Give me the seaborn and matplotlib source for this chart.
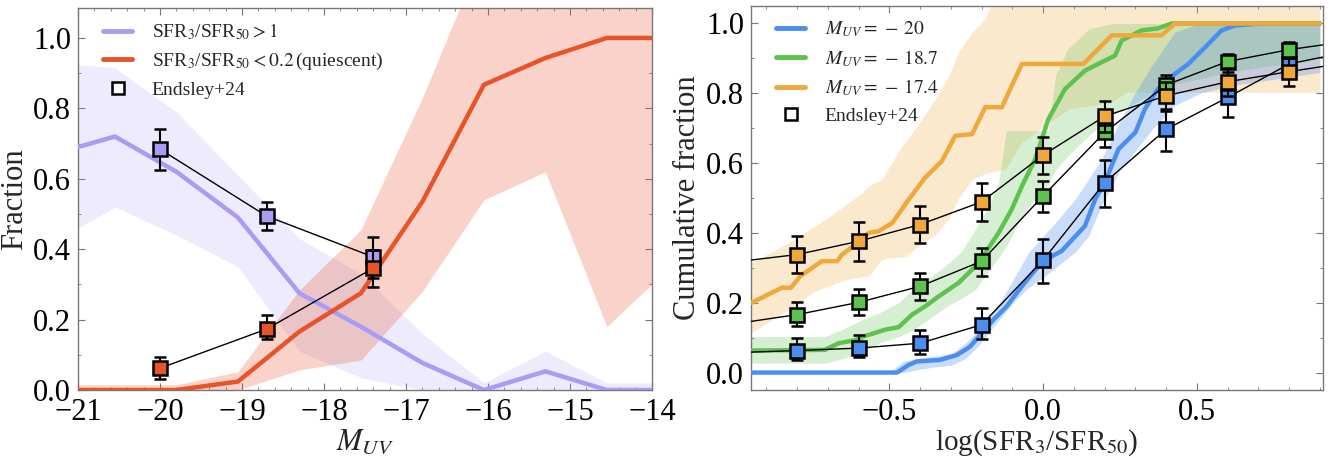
import matplotlib
matplotlib.use("Agg")
import matplotlib.pyplot as plt
from matplotlib.lines import Line2D
from matplotlib.ticker import AutoMinorLocator, MultipleLocator
import seaborn as sns

# ---- left panel: burst / quiescent fractions vs M_UV ----
muv_grid = [-21.3, -20.55, -19.8, -19.05, -18.3, -17.55, -16.8, -16.05, -15.3, -14.55, -13.8]
burst_med = [0.67, 0.72, 0.62, 0.49, 0.275, 0.18, 0.077, 0.0, 0.053, 0.0, 0.0]
burst_lo = [0.42, 0.52, 0.44, 0.35, 0.11, 0.035, 0.0, 0.0, 0.0, 0.0, 0.0]
burst_hi = [0.93, 0.915, 0.79, 0.61, 0.43, 0.33, 0.16, 0.02, 0.11, 0.02, 0.02]
quies_med = [0.0, 0.0, 0.0, 0.024, 0.166, 0.275, 0.535, 0.867, 0.943, 1.0, 1.0]
quies_lo = [0.0, 0.0, 0.0, 0.0, 0.057, 0.085, 0.28, 0.54, 0.62, 0.18, 0.345]
quies_hi = [0.015, 0.015, 0.015, 0.052, 0.284, 0.455, 0.83, 1.25, 1.3, 1.3, 1.3]

# Endsley+24 fractions
muv_obs = [-20.0, -18.7, -17.4]
burst_obs = [0.684, 0.494, 0.378]
burst_obs_lo = [0.06, 0.04, 0.06]
burst_obs_hi = [0.056, 0.04, 0.057]
quies_obs = [0.062, 0.173, 0.346]
quies_obs_lo = [0.031, 0.028, 0.053]
quies_obs_hi = [0.033, 0.04, 0.053]

# ---- right panel: cumulative distributions of log(SFR3/SFR50) ----
m20_x = [-0.95, -0.475, -0.437, -0.41, -0.336, -0.281, -0.238, -0.205, -0.162, -0.118, -0.086,
         -0.043, 0.0, 0.06, 0.136, 0.169, 0.2, 0.245, 0.3, 0.331, 0.373, 0.428, 0.472, 0.536,
         0.58, 0.623, 0.71, 0.9]
m20_y = [0.0, 0.0, 0.022, 0.032, 0.036, 0.05, 0.074, 0.108, 0.151, 0.19, 0.228,
         0.276, 0.32, 0.348, 0.42, 0.496, 0.544, 0.64, 0.688, 0.755, 0.812, 0.855, 0.884, 0.94,
         0.98, 0.994, 1.0, 1.0]
m20_band_x = [-0.5, -0.455, -0.41, -0.36, -0.296, -0.253, -0.21, -0.178, -0.135, -0.091, -0.048,
              0.0, 0.039, 0.104, 0.147, 0.19, 0.25, 0.3, 0.353, 0.428, 0.51, 0.6, 0.9]
m20_band_lo = [0.0, 0.0, 0.008, 0.015, 0.022, 0.04, 0.077, 0.113, 0.16, 0.207, 0.243,
               0.272, 0.3, 0.345, 0.39, 0.48, 0.58, 0.635, 0.695, 0.765, 0.8, 0.82, 0.86]
m20_band_hi = [0.0, 0.032, 0.04, 0.046, 0.055, 0.084, 0.123, 0.161, 0.209, 0.276, 0.343,
               0.39, 0.429, 0.496, 0.553, 0.611, 0.72, 0.803, 0.879, 0.975, 1.0, 1.0, 1.0]

m187_x = [-0.95, -0.71, -0.665, -0.61, -0.585, -0.513, -0.47, -0.426, -0.383, -0.34, -0.275,
          -0.231, -0.188, -0.145, -0.102, -0.069, -0.026, 0.017, 0.071, 0.136, 0.19, 0.234,
          0.255, 0.32, 0.374, 0.418, 0.9]
m187_y = [0.063, 0.065, 0.084, 0.093, 0.103, 0.123, 0.13, 0.166, 0.19, 0.218, 0.257,
          0.295, 0.343, 0.40, 0.468, 0.534, 0.611, 0.726, 0.812, 0.865, 0.889, 0.908,
          0.951, 0.98, 0.986, 1.0, 1.0]
m187_band_x = [-0.95, -0.71, -0.65, -0.58, -0.535, -0.47, -0.426, -0.361, -0.307, -0.264, -0.221,
               -0.177, -0.145, -0.12, -0.08, -0.037, 0.017, 0.04, 0.08, 0.15, 0.23, 0.4, 0.6, 0.9]
m187_band_lo = [0.027, 0.027, 0.04, 0.063, 0.084, 0.103, 0.12, 0.16, 0.193, 0.213, 0.237,
                0.29, 0.33, 0.36, 0.429, 0.487, 0.54, 0.58, 0.62, 0.68, 0.74, 0.82, 0.86, 0.9]
m187_band_hi = [0.103, 0.103, 0.125, 0.155, 0.17, 0.20, 0.238, 0.276, 0.314, 0.348, 0.41,
                0.477, 0.544, 0.693, 0.693, 0.693, 0.693, 0.85, 0.927, 0.985, 1.0, 1.0, 1.0, 1.0]

m174_x = [-0.95, -0.85, -0.82, -0.79, -0.72, -0.67, -0.654, -0.61, -0.567, -0.535, -0.49,
          -0.437, -0.383, -0.329, -0.286, -0.231, -0.188, -0.134, -0.102, -0.069, 0.131,
          0.223, 0.385, 0.429, 0.9]
m174_y = [0.199, 0.243, 0.243, 0.276, 0.319, 0.319, 0.338, 0.367, 0.40, 0.405, 0.429,
          0.496, 0.559, 0.606, 0.678, 0.683, 0.76, 0.76, 0.822, 0.884, 0.884,
          0.966, 0.966, 1.0, 1.0]
m174_band_x = [-0.95, -0.848, -0.827, -0.751, -0.708, -0.643, -0.589, -0.567, -0.524, -0.502,
               -0.459, -0.448, -0.394, -0.35, -0.307, -0.275, -0.231, -0.188, -0.15, -0.123,
               -0.069, -0.026, 0.082, 0.223, 0.272, 0.9]
m174_band_lo = [0.113, 0.17, 0.18, 0.228, 0.245, 0.266, 0.274, 0.277, 0.324, 0.328,
                0.331, 0.333, 0.37, 0.395, 0.44, 0.50, 0.553, 0.57, 0.578, 0.582,
                0.659, 0.688, 0.755, 0.774, 0.803, 0.803]
m174_band_hi = [0.314, 0.362, 0.372, 0.415, 0.439, 0.48, 0.515, 0.535, 0.554, 0.587,
                0.649, 0.66, 0.726, 0.784, 0.85, 0.918, 0.975, 1.014, 1.1, 1.1,
                1.1, 1.1, 1.1, 1.1, 1.1, 1.1]

# Endsley+24 cumulative fractions (end points lie just outside the plot range)
ratio_obs = [-1.0, -0.8, -0.6, -0.4, -0.2, 0.0, 0.2, 0.4, 0.6, 0.8, 1.0]
m20_obs = [0.057, 0.063, 0.07, 0.084, 0.137, 0.322, 0.544, 0.697, 0.788, 0.884, 0.92]
m20_obs_lo = [0.02, 0.027, 0.026, 0.03, 0.041, 0.065, 0.069, 0.062, 0.057, 0.04, 0.03]
m20_obs_hi = [0.02, 0.036, 0.038, 0.039, 0.048, 0.061, 0.065, 0.053, 0.04, 0.03, 0.03]
m187_obs = [0.14, 0.166, 0.201, 0.247, 0.319, 0.506, 0.688, 0.824, 0.891, 0.925, 0.95]
m187_obs_lo = [0.03, 0.034, 0.035, 0.038, 0.043, 0.045, 0.043, 0.035, 0.03, 0.025, 0.02]
m187_obs_hi = [0.03, 0.035, 0.039, 0.039, 0.038, 0.043, 0.04, 0.029, 0.022, 0.022, 0.02]
m174_obs = [0.317, 0.338, 0.376, 0.424, 0.489, 0.623, 0.734, 0.793, 0.833, 0.862, 0.889]
m174_obs_lo = [0.05, 0.052, 0.056, 0.052, 0.055, 0.055, 0.046, 0.038, 0.04, 0.042, 0.04]
m174_obs_hi = [0.05, 0.054, 0.054, 0.053, 0.055, 0.051, 0.045, 0.04, 0.04, 0.04, 0.04]

PURPLE = "#a99cf5"
RED = "#e9532a"
BLUE = "#4c8ef0"
GREEN = "#5ec24f"
ORANGE = "#f0a83c"

sns.set_style("ticks")
plt.rcParams["font.family"] = ["Liberation Serif", "DejaVu Serif"]
plt.rcParams["mathtext.fontset"] = "stix"

fig = plt.figure(figsize=(13.38, 4.58), dpi=100)
ax1 = fig.add_axes([78 / 1338, 68 / 458, 574 / 1338, 382 / 458])
ax2 = fig.add_axes([751 / 1338, 68 / 458, 572 / 1338, 384 / 458])


def observed(ax, x, y, lo, hi, color, z):
    sns.lineplot(x=x, y=y, ax=ax, color="black", lw=1.0, sort=False, zorder=z)
    ax.errorbar(x, y, yerr=[lo, hi], fmt="s", ms=10, mfc=color, mec="black", mew=1.8,
                ecolor="black", elinewidth=1.5, capsize=4, capthick=1.5, zorder=z + 1)


# left panel
ax1.fill_between(muv_grid, burst_lo, burst_hi, color=PURPLE, alpha=0.2, lw=0)
ax1.fill_between(muv_grid, quies_lo, quies_hi, color=RED, alpha=0.25, lw=0)
sns.lineplot(x=muv_grid, y=burst_med, ax=ax1, color=PURPLE, lw=3.2, sort=False, zorder=3)
sns.lineplot(x=muv_grid, y=quies_med, ax=ax1, color=RED, lw=3.2, sort=False, zorder=3)
observed(ax1, muv_obs, burst_obs, burst_obs_lo, burst_obs_hi, PURPLE, 5)
observed(ax1, muv_obs, quies_obs, quies_obs_lo, quies_obs_hi, RED, 7)

ax1.set_xlim(-21, -14)
ax1.set_ylim(0, 1.085)
ax1.xaxis.set_major_locator(MultipleLocator(1))
ax1.yaxis.set_major_locator(MultipleLocator(0.2))
ax1.set_xlabel("$M_{UV}$", fontsize=22, labelpad=0)
ax1.set_ylabel("Fraction", fontsize=22, labelpad=3)

handles1 = [
    Line2D([], [], color=PURPLE, lw=3.5),
    Line2D([], [], color=RED, lw=3.5),
    Line2D([], [], ls="none", marker="s", ms=9, mfc="white", mec="black", mew=1.8),
]
labels1 = ["SFR$_3$/SFR$_{50} > 1$", "SFR$_3$/SFR$_{50} < 0.2\\,$(quiescent)", "Endsley+24"]
ax1.legend(handles1, labels1, loc="upper left", frameon=False, fontsize=14,
           handlelength=1.5, handletextpad=1.0, labelspacing=0.45,
           borderaxespad=0.3, bbox_to_anchor=(0.02, 1.0))

# right panel
for bx, lo, hi, c, a in [(m174_band_x, m174_band_lo, m174_band_hi, ORANGE, 0.25),
                         (m187_band_x, m187_band_lo, m187_band_hi, GREEN, 0.25),
                         (m20_band_x, m20_band_lo, m20_band_hi, BLUE, 0.3)]:
    ax2.fill_between(bx, lo, hi, color=c, alpha=a, lw=0)
sns.lineplot(x=m20_x, y=m20_y, ax=ax2, color=BLUE, lw=3.2, sort=False, zorder=3)
sns.lineplot(x=m187_x, y=m187_y, ax=ax2, color=GREEN, lw=3.2, sort=False, zorder=3)
sns.lineplot(x=m174_x, y=m174_y, ax=ax2, color=ORANGE, lw=3.2, sort=False, zorder=3)
observed(ax2, ratio_obs, m20_obs, m20_obs_lo, m20_obs_hi, BLUE, 5)
observed(ax2, ratio_obs, m187_obs, m187_obs_lo, m187_obs_hi, GREEN, 7)
observed(ax2, ratio_obs, m174_obs, m174_obs_lo, m174_obs_hi, ORANGE, 9)

ax2.set_xlim(-0.95, 0.91)
ax2.set_ylim(-0.05, 1.05)
ax2.xaxis.set_major_locator(MultipleLocator(0.5))
ax2.yaxis.set_major_locator(MultipleLocator(0.2))
ax2.set_xlabel("log(SFR$_3$/SFR$_{50}$)", fontsize=21, labelpad=0)
ax2.set_ylabel("Cumulative fraction", fontsize=22, labelpad=3)

handles2 = [
    Line2D([], [], color=BLUE, lw=3.5),
    Line2D([], [], color=GREEN, lw=3.5),
    Line2D([], [], color=ORANGE, lw=3.5),
    Line2D([], [], ls="none", marker="s", ms=9, mfc="white", mec="black", mew=1.8),
]
labels2 = ["$M_{UV} = \\,-\\,20$", "$M_{UV} = \\,-\\,18.7$", "$M_{UV} = \\,-\\,17.4$", "Endsley+24"]
ax2.legend(handles2, labels2, loc="upper left", frameon=False, fontsize=14,
           handlelength=1.5, handletextpad=1.0, labelspacing=0.45,
           borderaxespad=0.3, bbox_to_anchor=(0.02, 1.0))

for ax in (ax1, ax2):
    ax.xaxis.set_minor_locator(AutoMinorLocator(5))
    ax.yaxis.set_minor_locator(AutoMinorLocator(2))
    ax.tick_params(which="both", direction="in", top=True, right=True, colors="#777777",
                   labelcolor="black", labelsize=22)
    ax.tick_params(which="major", length=5, width=0.8)
    ax.tick_params(which="minor", length=2.5, width=0.6)
    ax.tick_params(axis="x", pad=6)
    ax.tick_params(axis="y", pad=5)
    for sp in ax.spines.values():
        sp.set_color("#777777")
        sp.set_linewidth(1.0)

fig.savefig("out.png", dpi=100)
